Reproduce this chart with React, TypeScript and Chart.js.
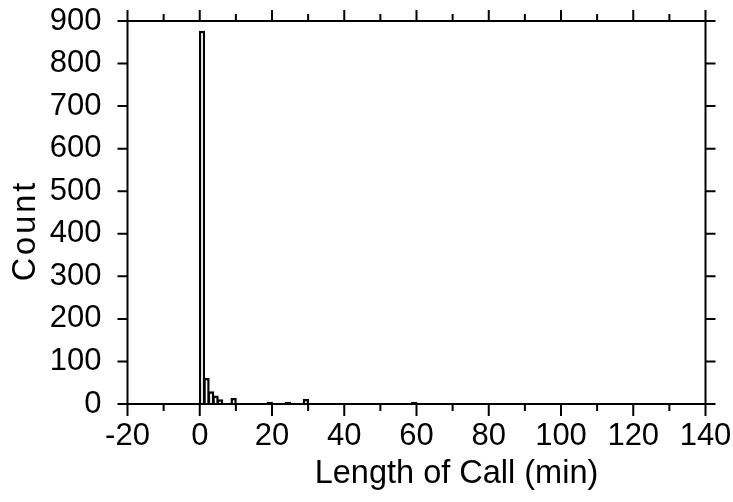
import React, { useEffect, useRef } from 'react';
import { Chart, registerables } from 'chart.js';

Chart.register(...registerables);

// Histogram bins (minutes) and counts
const binWidth = 1.25;
const binStarts = [0, 1.25, 2.5, 3.75, 5, 8.75, 18.75, 23.75, 28.75, 58.75];
const counts = [877, 61, 30, 20, 11, 14, 5, 5, 12, 5];

const xMin = -20;
const xMax = 140;
const xStep = 10;
const xLabelStep = 20;
const yMin = 0;
const yMax = 900;
const yStep = 100;

const xAxisTitle = 'Length of Call (min)';
const yAxisTitle = 'Count';

const FONT_FAMILY = 'Arial, "Liberation Sans", Helvetica, sans-serif';
const FONT_SIZE = 31;
const TITLE_SIZE = 32.5;

const framePlugin = {
  id: 'frameTicks',
  afterDatasetsDraw(chart: any) {
    const { ctx, chartArea, scales } = chart;
    const { left, right, top, bottom } = chartArea;
    const x = scales.x;
    const y = scales.y;
    ctx.save();
    ctx.strokeStyle = '#000';
    ctx.lineWidth = 2;
    ctx.lineCap = 'butt';
    ctx.strokeRect(left, top, right - left, bottom - top);
    ctx.beginPath();
    x.ticks.forEach((t: any) => {
      const px = x.getPixelForValue(t.value);
      const major = Math.abs(t.value % xLabelStep) < 1e-9;
      const lb = major ? 12 : 7;
      const lt = major ? 11 : 7;
      ctx.moveTo(px, bottom);
      ctx.lineTo(px, bottom + lb);
      ctx.moveTo(px, top);
      ctx.lineTo(px, top - lt);
    });
    y.ticks.forEach((t: any) => {
      const py = y.getPixelForValue(t.value);
      ctx.moveTo(left - 10, py);
      ctx.lineTo(left, py);
      ctx.moveTo(right, py);
      ctx.lineTo(right + 10, py);
    });
    ctx.stroke();

    ctx.fillStyle = '#000';
    ctx.font = `${TITLE_SIZE}px ${FONT_FAMILY}`;
    ctx.textAlign = 'center';
    ctx.textBaseline = 'middle';
    ctx.fillText(xAxisTitle, (left + right) / 2 + 40, 474);
    ctx.save();
    ctx.translate(26, (top + bottom) / 2 + 18);
    ctx.rotate(-Math.PI / 2);
    try {
      (ctx as any).letterSpacing = '3px';
    } catch (e) {}
    ctx.fillText(yAxisTitle, 0, 0);
    ctx.restore();
    ctx.restore();
  },
};

export default function App() {
  const ref = useRef<HTMLCanvasElement>(null);

  useEffect(() => {
    if (!ref.current) return;
    const chart = new Chart(ref.current, {
      type: 'bar',
      data: {
        datasets: [
          {
            data: binStarts.map((s, i) => ({ x: s + binWidth / 2, y: counts[i] })),
            backgroundColor: '#ffffff',
            borderColor: '#000000',
            borderWidth: 2.5,
            categoryPercentage: 1,
            barPercentage: 1.4,
          } as any,
        ],
      },
      options: {
        responsive: false,
        maintainAspectRatio: false,
        animation: false,
        layout: { padding: { top: 21, right: 27.5, left: 0, bottom: 0 } },
        plugins: { legend: { display: false }, tooltip: { enabled: false } },
        scales: {
          x: {
            type: 'linear',
            min: xMin,
            max: xMax,
            offset: false,
            grid: { display: false, drawTicks: false, offset: false },
            border: { display: false },
            ticks: {
              stepSize: xStep,
              autoSkip: false,
              maxRotation: 0,
              color: '#000',
              padding: 14,
              font: { family: FONT_FAMILY, size: FONT_SIZE },
              callback: (v: any) => (Math.abs(Number(v) % xLabelStep) < 1e-9 ? String(v) : ''),
            },
            afterFit: (s: any) => {
              s.height = 98;
              s.paddingLeft = 0;
              s.paddingRight = 0;
            },
          },
          y: {
            min: yMin,
            max: yMax,
            grid: { display: false, drawTicks: false },
            border: { display: false },
            ticks: {
              stepSize: yStep,
              autoSkip: false,
              color: '#000',
              padding: 26,
              font: { family: FONT_FAMILY, size: FONT_SIZE },
            },
            afterFit: (s: any) => {
              s.width = 127.5;
              s.paddingTop = 0;
              s.paddingBottom = 0;
            },
          },
        },
      },
      plugins: [framePlugin],
    });
    return () => chart.destroy();
  }, []);

  return (
    <div style={{ position: 'fixed', left: 0, top: 0, width: 733, height: 502, background: '#fff' }}>
      <canvas ref={ref} width={733} height={502} style={{ display: 'block' }} />
    </div>
  );
}
